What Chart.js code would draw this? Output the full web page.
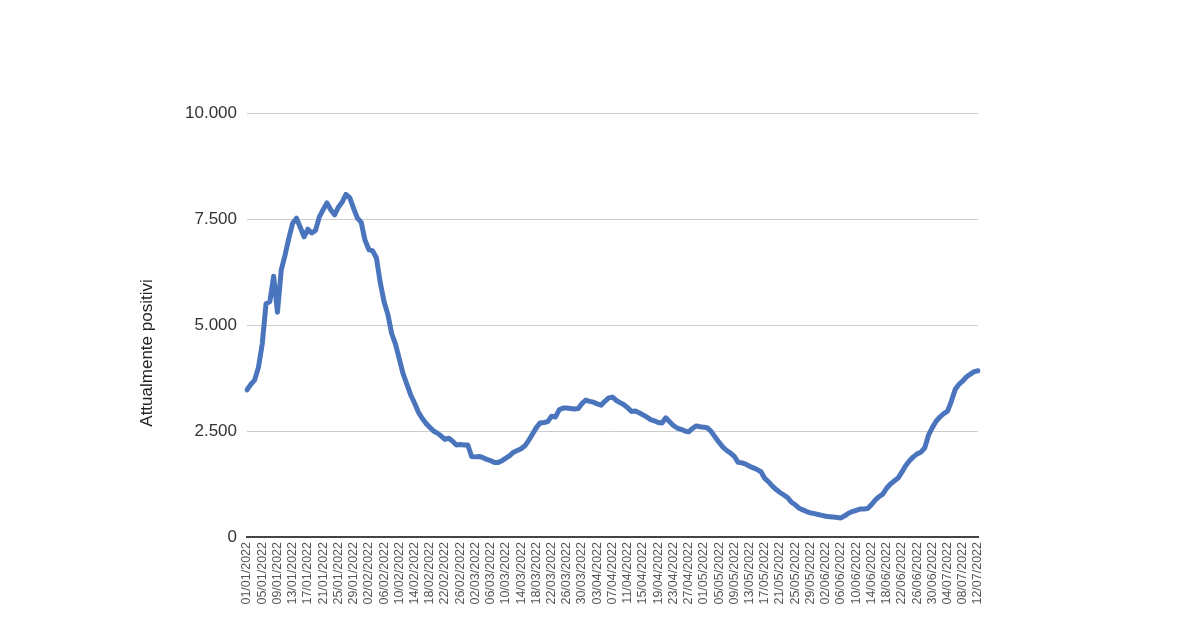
<!DOCTYPE html>
<html>
<head>
<meta charset="utf-8">
<script src="https://cdn.jsdelivr.net/npm/chart.js@4/dist/chart.umd.min.js"></script>
<style>
  body { margin: 0; background: #ffffff; }
  #wrap { width: 1200px; height: 640px; }
</style>
</head>
<body>
<div id="wrap"><canvas id="chart" width="1200" height="640"></canvas></div>
<script>
// daily values, 01/01/2022 .. 12/07/2022
const positivi = [
    3470, 3600, 3700, 4000, 4550, 5500, 5550, 6150, 5300, 6300,
    6650, 7050, 7400, 7520, 7300, 7080, 7260, 7170, 7230, 7550,
    7720, 7880, 7720, 7600, 7780, 7900, 8080, 8000, 7750, 7520,
    7420, 7000, 6780, 6750, 6580, 6000, 5550, 5250, 4800, 4550,
    4200, 3850, 3600, 3350, 3160, 2950, 2800, 2680, 2590, 2500,
    2450, 2380, 2300, 2330, 2260, 2170, 2180, 2170, 2170, 1900,
    1890, 1900, 1870, 1830, 1800, 1760, 1760, 1800, 1860, 1920,
    2000, 2040, 2080, 2150, 2280, 2430, 2580, 2690, 2700, 2720,
    2850, 2830, 3000, 3040, 3040, 3030, 3020, 3030, 3150, 3230,
    3200, 3180, 3140, 3110, 3200, 3280, 3300, 3220, 3170, 3120,
    3050, 2960, 2970, 2930, 2880, 2830, 2770, 2740, 2700, 2690,
    2810, 2720, 2630, 2570, 2540, 2500, 2480, 2560, 2620, 2600,
    2590, 2570, 2480, 2350, 2230, 2120, 2040, 1980, 1900, 1760,
    1750, 1720, 1670, 1630, 1590, 1540, 1380, 1300, 1200, 1120,
    1050, 990, 930, 820, 760, 680, 640, 600, 570, 550,
    530, 510, 490, 480, 470, 460, 450, 500, 560, 600,
    630, 660, 660, 670, 760, 870, 950, 1010, 1150, 1250,
    1320, 1390, 1530, 1680, 1800, 1890, 1960, 2000, 2100, 2400,
    2580, 2730, 2830, 2910, 2970, 3200, 3480, 3600, 3680, 3780,
    3840, 3900, 3920
];

// categories: one per day starting 01/01/2022
const startDate = new Date(2022, 0, 1);
const giorni = [];
for (let i = 0; i < positivi.length; i++) {
    const d = new Date(startDate.getFullYear(), startDate.getMonth(), startDate.getDate() + i);
    const dd = String(d.getDate()).padStart(2, '0');
    const mm = String(d.getMonth() + 1).padStart(2, '0');
    giorni.push(dd + '/' + mm + '/' + d.getFullYear());
}

const yTicks = [0, 2500, 5000, 7500, 10000];
const labelStep = 4;
const yTitle = 'Attualmente positivi';
const fontFam = 'Liberation Sans, Arial, sans-serif';

function formatIt(v) {
    return String(v).replace(/\B(?=(\d{3})+(?!\d))/g, '.');
}

// y axis title, drawn a bit below the middle like the original sheet
const yTitlePlugin = {
    id: 'yTitle',
    afterDraw(chart) {
        const c = chart.ctx;
        c.save();
        c.translate(147, 353);
        c.rotate(-Math.PI / 2);
        c.font = '17px ' + fontFam;
        c.fillStyle = '#222222';
        c.textAlign = 'center';
        c.textBaseline = 'middle';
        c.fillText(yTitle, 0, 0);
        c.restore();
    }
};

const ctx = document.getElementById('chart').getContext('2d');
new Chart(ctx, {
    type: 'line',
    data: {
        labels: giorni,
        datasets: [{
            label: yTitle,
            data: positivi,
            borderColor: '#4a75bd',
            borderWidth: 5,
            pointRadius: 0,
            tension: 0,
            borderJoinStyle: 'round',
            borderCapStyle: 'round',
            fill: false
        }]
    },
    plugins: [yTitlePlugin],
    options: {
        responsive: false,
        animation: false,
        layout: { padding: { left: 160, right: 222, top: 113, bottom: 0 } },
        plugins: {
            legend: { display: false },
            tooltip: { enabled: false }
        },
        scales: {
            x: {
                grid: { display: false },
                border: { display: true, color: '#444444', width: 2 },
                ticks: {
                    autoSkip: false,
                    minRotation: 90,
                    maxRotation: 90,
                    padding: -3,
                    color: '#555555',
                    font: { family: fontFam, size: 12.5 },
                    callback: function (value, index) {
                        return index % labelStep === 0 ? giorni[index] : '';
                    }
                },
                afterFit: function (scale) { scale.height = 103; }
            },
            y: {
                min: 0,
                max: 10000,
                afterBuildTicks: function (scale) {
                    scale.ticks = yTicks.map(v => ({ value: v }));
                },
                grid: { color: '#cccccc', lineWidth: 1, drawTicks: false },
                border: { display: false },
                ticks: {
                    padding: 10,
                    color: '#333333',
                    font: { family: fontFam, size: 17 },
                    callback: function (value) { return formatIt(value); }
                },
                afterFit: function (scale) { scale.width = 87; }
            }
        }
    }
});
</script>
</body>
</html>
